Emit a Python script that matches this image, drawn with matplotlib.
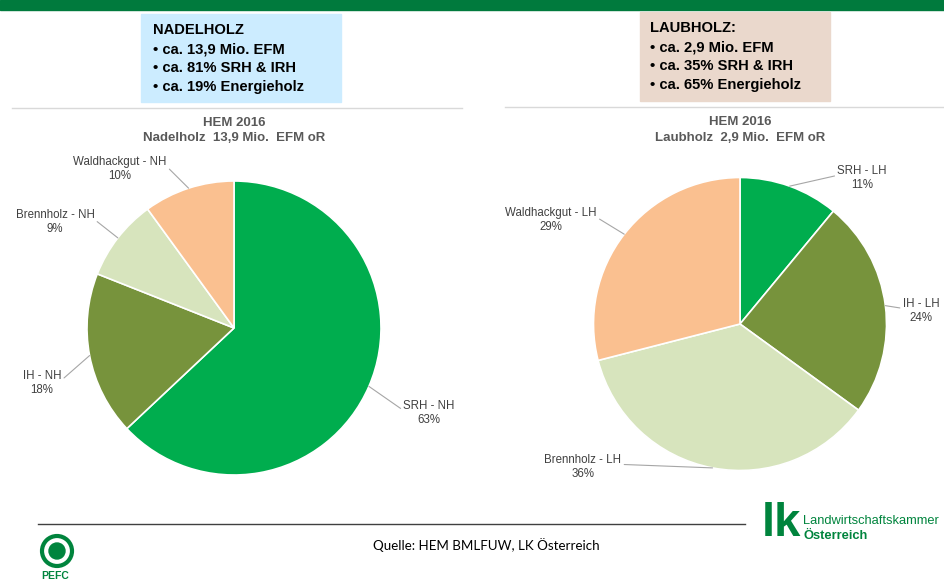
import numpy as np
import matplotlib.pyplot as plt
from matplotlib.patches import Rectangle, Circle

plt.rcParams['font.family'] = ['Liberation Sans', 'DejaVu Sans']

# ---------- data ----------
nh_labels = ['SRH - NH', 'IH - NH', 'Brennholz - NH', 'Waldhackgut - NH']
nh_values = [63, 18, 9, 10]
lh_labels = ['SRH - LH', 'IH - LH', 'Brennholz - LH', 'Waldhackgut - LH']
lh_values = [11, 24, 36, 29]
slice_colors = ['#00AD4E', '#77933C', '#D7E4BD', '#FAC090']

nh_title = 'HEM 2016\nNadelholz  13,9 Mio.  EFM oR'
lh_title = 'HEM 2016\nLaubholz  2,9 Mio.  EFM oR'
nh_box = ['NADELHOLZ', '• ca. 13,9 Mio. EFM', '• ca. 81% SRH & IRH', '• ca. 19% Energieholz']
lh_box = ['LAUBHOLZ:', '• ca. 2,9 Mio. EFM', '• ca. 35% SRH & IRH', '• ca. 65% Energieholz']
source = 'Quelle: HEM BMLFUW, LK Österreich'

W, H = 944, 581
fig = plt.figure(figsize=(W / 100, H / 100), dpi=100)

# background axes in pixel units for decorations
bg = fig.add_axes([0, 0, 1, 1])
bg.set_xlim(0, W)
bg.set_ylim(H, 0)
bg.axis('off')

bg.add_patch(Rectangle((0, 0), W, 10, color='#007A3D'))
bg.plot([12, 462], [108, 108], color='#D9D9D9', lw=1)
bg.plot([505, 944], [107, 107], color='#D9D9D9', lw=1)

# info boxes
bg.add_patch(Rectangle((141, 14), 200, 88, color='#CCECFF'))
bg.add_patch(Rectangle((640, 12), 190, 89, color='#EAD8CC'))
for i, line in enumerate(nh_box):
    bg.text(153, 30 + i * 19, line, fontsize=10.6, fontweight='bold',
            va='center', ha='left', color='black')
for i, line in enumerate(lh_box):
    bg.text(650, 28 + i * 19, line, fontsize=10.6, fontweight='bold',
            va='center', ha='left', color='black')

# footer
bg.plot([38, 745], [524, 524], color='#404040', lw=1)
bg.text(486, 545, source, fontsize=9.6, ha='center', va='center',
        color='black', family=['Lato', 'DejaVu Sans'])
bg.text(781, 524, 'lk', fontsize=34, fontweight='bold', ha='center', va='center',
        color='#00843D')
bg.text(803, 521, 'Landwirtschaftskammer', fontsize=9.3, ha='left', va='center',
        color='#00843D')
bg.text(803, 536, 'Österreich', fontsize=9.3, fontweight='bold', ha='left', va='center',
        color='#00843D')
bg.add_patch(Circle((57, 551), 15, fill=False, ec='#00843D', lw=3))
bg.add_patch(Circle((57, 551), 8, color='#00843D'))
bg.text(55, 576, 'PEFC', fontsize=7.5, fontweight='bold', ha='center', va='center',
        color='#00843D')


def draw_pie(values, labels, title, cx, cy, r, label_pos, title_y):
    L = 1.8
    w = 2 * L * r
    ax = fig.add_axes([(cx - w / 2) / W, 1 - (cy + w / 2) / H, w / W, w / H])
    wedges, _ = ax.pie(values, colors=slice_colors, startangle=90, counterclock=False,
                       wedgeprops=dict(edgecolor='white', linewidth=1.2))
    ax.set_xlim(-L, L)
    ax.set_ylim(-L, L)
    ax.axis('off')
    for wdg, lab, val, (tx, ty) in zip(wedges, labels, values, label_pos):
        mid = np.deg2rad((wdg.theta1 + wdg.theta2) / 2)
        px, py = np.cos(mid), np.sin(mid)
        rel = (1.0, 0.6) if tx < px else (0.0, 0.6)
        ax.annotate(f'{lab}\n{val}%', xy=(px, py), xytext=(tx, ty),
                    ha='center', va='center', fontsize=8.3, color='#404040',
                    annotation_clip=False,
                    arrowprops=dict(arrowstyle='-', color='#A6A6A6', lw=0.8,
                                    shrinkA=0, shrinkB=0, relpos=rel))
    bg.text(cx, title_y, title, ha='center', va='center', fontsize=9.5,
            fontweight='bold', color='#595959', linespacing=1.4)


draw_pie(nh_values, nh_labels, nh_title, 234, 328, 147,
         [(1.327, -0.578), (-1.306, -0.374), (-1.218, 0.721), (-0.776, 1.082)], 130.5)
draw_pie(lh_values, lh_labels, lh_title, 740, 324, 146.5,
         [(0.833, 0.997), (1.235, 0.089), (-1.072, -0.976), (-1.29, 0.71)], 130)

fig.savefig('out.png', dpi=100)
